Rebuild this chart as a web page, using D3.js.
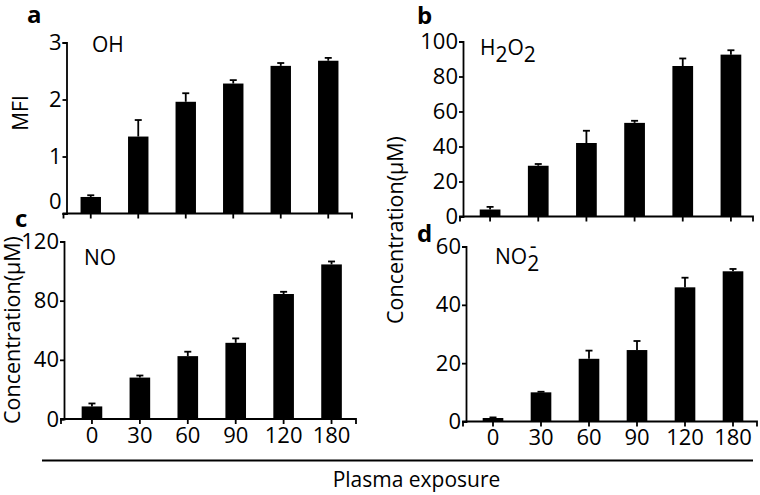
<!DOCTYPE html>
<html><head><meta charset="utf-8">
<script src="https://cdn.jsdelivr.net/npm/d3@7"></script>
<style>
body{margin:0;background:#fff}
svg{display:block}
text{font-family:"Open Sans",sans-serif;fill:#000}
</style>
</head><body>
<svg id="chart" width="760" height="495"></svg>
<script>
// ---- data ----
const categories = ["0", "30", "60", "90", "120", "180"];

const ohValues = [0.29, 1.35, 1.96, 2.28, 2.59, 2.68];
const ohErrors = [0.03, 0.29, 0.15, 0.06, 0.05, 0.05];
const ohTicks = [0, 1, 2, 3];

const h2o2Values = [4, 29, 42, 53.5, 86, 92.5];
const h2o2Errors = [1.5, 1, 7, 1.2, 4.3, 2.5];
const h2o2Ticks = [0, 20, 40, 60, 80, 100];

const noValues = [8.5, 28, 42.5, 51.5, 84.5, 104.5];
const noErrors = [2, 1.4, 3, 3, 1.5, 2];
const noTicks = [0, 40, 80, 120];

const no2Values = [1.2, 10, 21.5, 24.5, 46, 51.5];
const no2Errors = [0.2, 0.2, 2.8, 3.1, 3.3, 0.8];
const no2Ticks = [0, 20, 40, 60];

const xLabel = "Plasma exposure";
const concLabel = "Concentration(\u03bcM)";

// ---- panels (layout) ----
const panels = [
  {letter:"a", values:ohValues, errors:ohErrors, ticks:ohTicks,
   yAxisX:66.5, xEnd:352, band:[67,352], yBase:213.5, yTop:42.5,
   showX:false, ylabel:"MFI", ylabelX:28, ylabelY:113, ylabelFit:null, zeroShift:-12,
   title:[{t:"OH"}], titleX:92, titleY:52, letterX:27, letterY:23},
  {letter:"b", values:h2o2Values, errors:h2o2Errors, ticks:h2o2Ticks,
   yAxisX:463, xEnd:753, band:[466,755], yBase:216.5, yTop:41.5,
   showX:false, ylabel:null, zeroShift:0,
   title:[{t:"H"},{t:"2",sub:true},{t:"O"},{t:"2",sub:true}], titleX:480, titleY:55, letterX:417, letterY:24},
  {letter:"c", values:noValues, errors:noErrors, ticks:noTicks,
   yAxisX:64, xEnd:356, band:[68,355.5], yBase:419, yTop:241.5,
   showX:true, ylabel:concLabel, ylabelX:20, ylabelY:330, ylabelFit:188, zeroShift:0,
   title:[{t:"NO"}], titleX:84, titleY:265, letterX:15, letterY:227},
  {letter:"d", values:no2Values, errors:no2Errors, ticks:no2Ticks,
   yAxisX:466, xEnd:757, band:[469,757], yBase:421.5, yTop:246.5,
   showX:true, ylabel:concLabel, ylabelX:403, ylabelY:230, ylabelFit:188, zeroShift:0,
   title:[{t:"NO"},{t:"2",sub:true},{t:"-",sup:true}], titleX:495, titleY:264, letterX:417, letterY:242}
];

const svg = d3.select("#chart");
const SW = 1.8;
const TICK_FONT = "22px";

panels.forEach(p => {
  const g = svg.append("g");
  const x = d3.scaleBand().domain(categories).range(p.band).paddingInner(0.57).paddingOuter(0.285);
  const maxTick = d3.max(p.ticks);
  const y = d3.scaleLinear().domain([0, maxTick]).range([p.yBase, p.yTop]);

  // bars
  g.selectAll("rect.bar").data(p.values).join("rect")
    .attr("class","bar")
    .attr("x",(d,i)=>x(categories[i]))
    .attr("width",x.bandwidth())
    .attr("y",d=>y(d))
    .attr("height",d=>y(0)-y(d))
    .attr("fill","#000");

  // error bars (upper only)
  const cap = 3.5;
  const cx = i => x(categories[i]) + x.bandwidth()/2;
  const eb = g.selectAll("g.err").data(p.values).join("g").attr("class","err");
  eb.append("line")
    .attr("x1",(d,i)=>cx(i)).attr("x2",(d,i)=>cx(i))
    .attr("y1",d=>y(d))
    .attr("y2",(d,i)=>y(d+p.errors[i]))
    .attr("stroke","#000").attr("stroke-width",1.8);
  eb.append("line")
    .attr("x1",(d,i)=>cx(i)-cap).attr("x2",(d,i)=>cx(i)+cap)
    .attr("y1",(d,i)=>y(d+p.errors[i]))
    .attr("y2",(d,i)=>y(d+p.errors[i]))
    .attr("stroke","#000").attr("stroke-width",1.8);

  // x axis
  const xa = g.append("g").attr("transform",`translate(0,${p.yBase})`)
    .call(d3.axisBottom(x).tickSize(5).tickSizeOuter(0).tickPadding(3)
      .tickFormat(p.showX ? (d=>d) : ()=>""));
  xa.select(".domain").attr("d",`M${p.yAxisX-3},5V0H${p.xEnd}V5`);
  xa.selectAll("path,line").attr("stroke","#000").attr("stroke-width",SW);
  xa.selectAll("text").style("font-size",TICK_FONT).style("font-family","'Open Sans',sans-serif").attr("fill","#000");

  // y axis
  const ya = g.append("g").attr("transform",`translate(${p.yAxisX},0)`)
    .call(d3.axisLeft(y).tickValues(p.ticks).tickSize(4).tickSizeOuter(4).tickPadding(1).tickFormat(d3.format("d")));
  ya.selectAll("path,line").attr("stroke","#000").attr("stroke-width",SW);
  ya.selectAll("text").style("font-size",TICK_FONT).style("font-family","'Open Sans',sans-serif").attr("fill","#000");
  if (p.zeroShift) ya.selectAll(".tick").filter(d=>d===0).select("text").attr("y",p.zeroShift);

  // y label
  if (p.ylabel) {
    const t = g.append("text")
      .attr("transform",`translate(${p.ylabelX},${p.ylabelY}) rotate(-90)`)
      .attr("text-anchor","middle")
      .style("font-size","21px")
      .text(p.ylabel);
    if (p.ylabelFit) {
      const len = t.node().getComputedTextLength();
      t.style("font-size", (21*p.ylabelFit/len).toFixed(2)+"px");
    }
  }

  // title
  const tt = g.append("text").attr("x",p.titleX).attr("y",p.titleY).style("font-size","21px");
  let lvl = 0;
  p.title.forEach(s => {
    const ts = tt.append("tspan").text(s.t);
    if (s.sub) { ts.attr("dy", 7 - lvl); lvl = 7; }
    else if (s.sup) { ts.attr("dx",-9.5).attr("dy",-18); lvl -= 18; }
    else if (lvl !== 0) { ts.attr("dy", -lvl); lvl = 0; }
  });

  // panel letter
  g.append("text").attr("x",p.letterX).attr("y",p.letterY)
    .style("font-size","24px").style("font-weight","bold").text(p.letter);
});

// shared x label
svg.append("line").attr("x1",42).attr("x2",753).attr("y1",460.5).attr("y2",460.5)
  .attr("stroke","#000").attr("stroke-width",2);
svg.append("text").attr("x",416.5).attr("y",487).attr("text-anchor","middle")
  .style("font-size","21px").text(xLabel);
</script>
</body></html>
